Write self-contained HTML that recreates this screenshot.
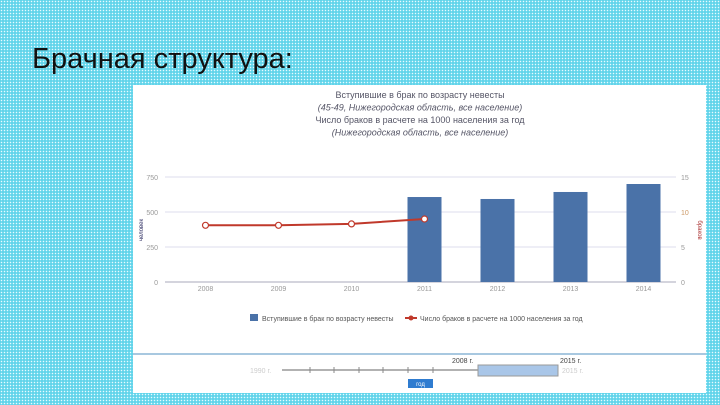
<!DOCTYPE html>
<html><head><meta charset="utf-8"><style>
body{margin:0;width:720px;height:405px;overflow:hidden;font-family:"Liberation Sans",sans-serif;
background-color:#62d4ea;background-image:radial-gradient(#e8fbff 0.6px,transparent 0.9px);background-size:3px 3px;position:relative}
#hdr{position:absolute;left:32px;top:43px;font-size:29px;color:#111}
#panel{position:absolute;left:133px;top:85px;width:573px;height:308px;background:#fff}
</style></head><body>
<div id="hdr">Брачная структура:</div>
<div id="panel"></div>
<svg id="c" width="720" height="405" style="position:absolute;left:0;top:0"></svg>
<script>
const categories=["2008","2009","2010","2011","2012","2013","2014"];
const barValues=[null,null,null,607,593,643,700];
const lineValues=[8.1,8.1,8.3,9.0,null,null,null];
const leftTicks=[0,250,500,750];
const rightTicks=[0,5,10,15];
const svg=document.getElementById('c');const NS='http://www.w3.org/2000/svg';
function el(t,a,txt){const e=document.createElementNS(NS,t);for(const k in a)e.setAttribute(k,a[k]);if(txt!=null)e.textContent=txt;svg.appendChild(e);return e;}
const L=165,R=676,T=177,B=282;
const xs=i=>L+(R-L)*(i+0.5)/categories.length+4;
const yl=v=>B-(v/750)*(B-T);
const yr=v=>B-(v/15)*(B-T);
const titles=["Вступившие в брак по возрасту невесты","(45-49, Нижегородская область, все население)","Число браков в расчете на 1000 населения за год","(Нижегородская область, все население)"];
titles.forEach((t,i)=>{const e=el('text',{x:420,y:98+i*12.5,'text-anchor':'middle','font-size':9,fill:'#556','font-style':i%2?'italic':'normal'},t);});
leftTicks.forEach(v=>{const g=el('line',{x1:L,x2:R,y1:yl(v),y2:yl(v),stroke:v==0?'#aab':'#dde',"stroke-width":1});
const t=el('text',{x:L-7,y:yl(v)+3,'text-anchor':'end','font-size':7,fill:'#999'},v);});
rightTicks.forEach(v=>{const t=el('text',{x:R+5,y:yr(v)+3,'font-size':7,fill:v==10?'#c96':'#999'},v);});
let a=el('text',{x:143,y:230,'font-size':6,fill:'#336','text-anchor':'middle',transform:'rotate(-90 143 230)'},'человек');
a=el('text',{x:698,y:230,'font-size':6,fill:'#a33','text-anchor':'middle',transform:'rotate(90 698 230)'},'браков');
categories.forEach((c,i)=>{const t=el('text',{x:xs(i),y:291,'text-anchor':'middle','font-size':7,fill:'#999'},c);
if(barValues[i]!=null){const r=el('rect',{x:xs(i)-17,y:yl(barValues[i]),width:34,height:B-yl(barValues[i]),fill:'#4a72a8'});}});
let pts=[];lineValues.forEach((v,i)=>{if(v!=null)pts.push(xs(i)+','+yr(v));});
const pl=el('polyline',{points:pts.join(' '),fill:'none',stroke:'#c0392b','stroke-width':2});
lineValues.forEach((v,i)=>{if(v!=null){const p=el('circle',{cx:xs(i),cy:yr(v),r:3,fill:'#fff',stroke:'#c0392b','stroke-width':1.2});}});
let r=el('rect',{x:250,y:314,width:8,height:7,fill:'#4a72a8'});
let t=el('text',{x:262,y:321,'font-size':7,fill:'#555'},'Вступившие в брак по возрасту невесты');
let ln=el('line',{x1:405,x2:417,y1:318,y2:318,stroke:'#c0392b','stroke-width':2});
let lc=el('circle',{cx:411,cy:318,r:2.5,fill:'#c0392b'});
t=el('text',{x:420,y:321,'font-size':7,fill:'#555'},'Число браков в расчете на 1000 населения за год');
let s=el('line',{x1:133,x2:706,y1:354,y2:354,stroke:'#a8c8e0','stroke-width':2});
s=el('line',{x1:282,x2:478,y1:370,y2:370,stroke:'#666','stroke-width':1});
[310,334,359,383,408,433].forEach(x=>{const k=el('line',{x1:x,x2:x,y1:367,y2:373,stroke:'#888'});});
s=el('rect',{x:478,y:365,width:80,height:11,fill:'#a9c6e8',stroke:'#999'});
t=el('text',{x:250,y:373,'font-size':7,fill:'#ccc'},'1990 г.');
t=el('text',{x:562,y:373,'font-size':7,fill:'#ccc'},'2015 г.');
t=el('text',{x:452,y:363,'font-size':7,fill:'#444'},'2008 г.');
t=el('text',{x:560,y:363,'font-size':7,fill:'#444'},'2015 г.');
s=el('rect',{x:408,y:379,width:25,height:9,fill:'#2f7cd0'});
t=el('text',{x:420.5,y:386,'font-size':6,fill:'#fff','text-anchor':'middle'},'год');
</script></body></html>
